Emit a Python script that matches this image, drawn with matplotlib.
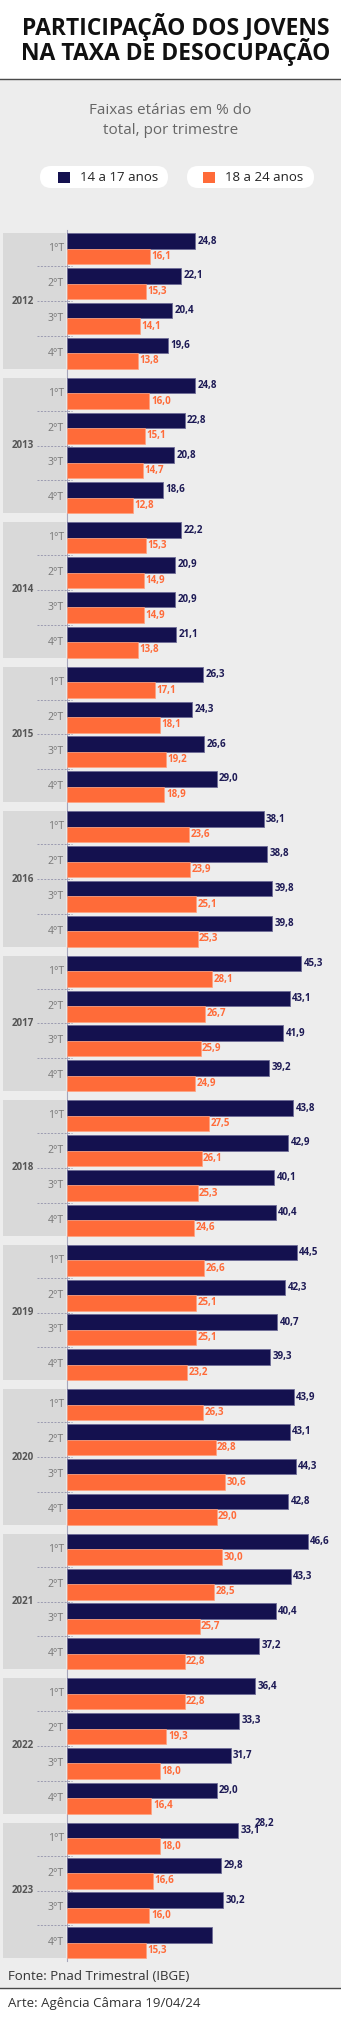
import matplotlib
matplotlib.use('Agg')
import matplotlib.pyplot as plt
from matplotlib.patches import Rectangle, FancyBboxPatch
from matplotlib.transforms import IdentityTransform

plt.rcParams['font.family'] = ['Open Sans', 'DejaVu Sans']

# Data
anos = ['2012', '2013', '2014', '2015', '2016', '2017',
        '2018', '2019', '2020', '2021', '2022', '2023']
trimestres = ['1°T', '2°T', '3°T', '4°T']
series = ['14 a 17 anos', '18 a 24 anos']

jovens_14_17 = [
    24.8, 22.1, 20.4, 19.6,
    24.8, 22.8, 20.8, 18.6,
    22.2, 20.9, 20.9, 21.1,
    26.3, 24.3, 26.6, 29.0,
    38.1, 38.8, 39.8, 39.8,
    45.3, 43.1, 41.9, 39.2,
    43.8, 42.9, 40.1, 40.4,
    44.5, 42.3, 40.7, 39.3,
    43.9, 43.1, 44.3, 42.8,
    46.6, 43.3, 40.4, 37.2,
    36.4, 33.3, 31.7, 29.0,
    33.1, 29.8, 30.2, 28.2,
]
jovens_18_24 = [
    16.1, 15.3, 14.1, 13.8,
    16.0, 15.1, 14.7, 12.8,
    15.3, 14.9, 14.9, 13.8,
    17.1, 18.1, 19.2, 18.9,
    23.6, 23.9, 25.1, 25.3,
    28.1, 26.7, 25.9, 24.9,
    27.5, 26.1, 25.3, 24.6,
    26.6, 25.1, 25.1, 23.2,
    26.3, 28.8, 30.6, 29.0,
    30.0, 28.5, 25.7, 22.8,
    22.8, 19.3, 18.0, 16.4,
    18.0, 16.6, 16.0, 15.3,
]

NAVY = '#14114f'
ORANGE = '#ff6b39'
BG = '#ededed'
PANEL = '#d9d9d9'

# layout in pixels
W, H = 341, 2021
X0 = 66.7          # bar baseline
SCALE = 5.17       # px per percentage point
TOP0 = 233.3
PERIOD = 144.5
QSTEP = 34.8
BAR_H = 15.5
BLOCK_H = 3 * QSTEP + 2 * BAR_H


def px2x(px):
    return (px - X0) / SCALE


def fy(py):
    return 1 - py / H


fig = plt.figure(figsize=(W / 100, H / 100), dpi=100)
fig.patch.set_facecolor('white')
ax = fig.add_axes([0, 0, 1, 1])
ax.set_xlim(px2x(0), px2x(W))
ax.set_ylim(H, 0)
ax.axis('off')

# grey body with header / footer rules
ax.axhspan(79, 1988, color=BG, zorder=0)
ax.axhline(79, color='#4a4a4a', lw=1.0, zorder=1)
ax.axhline(1988, color='#4a4a4a', lw=1.0, zorder=1)

fig.text(0.515, fy(27), 'PARTICIPAÇÃO DOS JOVENS', ha='center', va='center',
         fontsize=16.5, fontweight='bold', color='#111111')
fig.text(0.515, fy(52), 'NA TAXA DE DESOCUPAÇÃO', ha='center', va='center',
         fontsize=16.5, fontweight='bold', color='#111111')
fig.text(0.5, fy(110), 'Faixas etárias em % do', ha='center', va='center',
         fontsize=11, color='#666666')
fig.text(0.5, fy(130), 'total, por trimestre', ha='center', va='center',
         fontsize=11, color='#666666')

# legend pills
ident = IdentityTransform()
for (x1, x2, sq), label, col in zip([(40, 168, 58), (187, 314, 203)], series, [NAVY, ORANGE]):
    fig.add_artist(FancyBboxPatch((x1, H - 188), x2 - x1, 22,
                                  boxstyle='round,pad=0,rounding_size=11',
                                  transform=ident, fc='white', ec='none'))
    fig.add_artist(Rectangle((sq, H - 183), 11.5, 11.5, transform=ident,
                             fc=col, ec='none'))
    fig.text((sq + 22) / W, fy(177.5), label, ha='left', va='center',
             fontsize=9.5, color='#222222')

for i, ano in enumerate(anos):
    top = TOP0 + i * PERIOD
    ax.add_patch(Rectangle((px2x(3.3), top), px2x(66) - px2x(3.3), BLOCK_H,
                           fc=PANEL, ec='none', zorder=1))
    ax.text(px2x(11.5), top + BLOCK_H / 2, ano, ha='left', va='center',
            fontsize=7, fontweight='bold', color='#555555', zorder=3)
    for q, tri in enumerate(trimestres):
        k = i * 4 + q
        yq = top + q * QSTEP
        v1, v2 = jovens_14_17[k], jovens_18_24[k]
        ax.barh(yq + BAR_H / 2, v1, height=BAR_H, color=NAVY,
                edgecolor='#6e6c96', linewidth=0.6, zorder=3)
        ax.barh(yq + BAR_H * 1.5, v2, height=BAR_H, color=ORANGE,
                edgecolor='#ffa17f', linewidth=0.5, zorder=3)
        ax.text(px2x(64), yq + BAR_H, tri, ha='right', va='center',
                fontsize=7.5, color='#777777', zorder=3)
        if q < 3:
            ys = yq + 2 * BAR_H + (QSTEP - 2 * BAR_H) / 2
            ax.plot([px2x(37), px2x(72)], [ys, ys], ls=(0, (2, 1.5)),
                    color='#9b9bb0', lw=0.7, zorder=2)
        if (i, q) == (len(anos) - 1, 3):
            # this label sits above the first quarter of the year
            ax.annotate(f'{v1:.1f}'.replace('.', ','),
                        (jovens_14_17[i * 4], top + BAR_H / 2),
                        xytext=(17, 7), textcoords='offset pixels',
                        ha='left', va='center', fontsize=7,
                        fontweight='bold', color='#1d1a55', zorder=4)
        else:
            ax.annotate(f'{v1:.1f}'.replace('.', ','), (v1, yq + BAR_H / 2),
                        xytext=(2.5, 0), textcoords='offset pixels',
                        ha='left', va='center', fontsize=7,
                        fontweight='bold', color='#1d1a55', zorder=4)
        ax.annotate(f'{v2:.1f}'.replace('.', ','), (v2, yq + BAR_H * 1.5),
                    xytext=(1.5, 0), textcoords='offset pixels',
                    ha='left', va='center', fontsize=7,
                    fontweight='bold', color=ORANGE, zorder=4)

last_bottom = TOP0 + (len(anos) - 1) * PERIOD + BLOCK_H
ax.plot([0, 0], [TOP0 - 3, last_bottom + 3], color='#a6a6bc', lw=0.8, zorder=2)

fig.text(8.5 / W, fy(1977), 'Fonte: Pnad Trimestral (IBGE)', ha='left',
         va='center', fontsize=9.5, color='#333333')
fig.text(8 / W, fy(2003), 'Arte: Agência Câmara 19/04/24', ha='left',
         va='center', fontsize=9.5, color='#333333')

fig.savefig('out.png', dpi=100)
